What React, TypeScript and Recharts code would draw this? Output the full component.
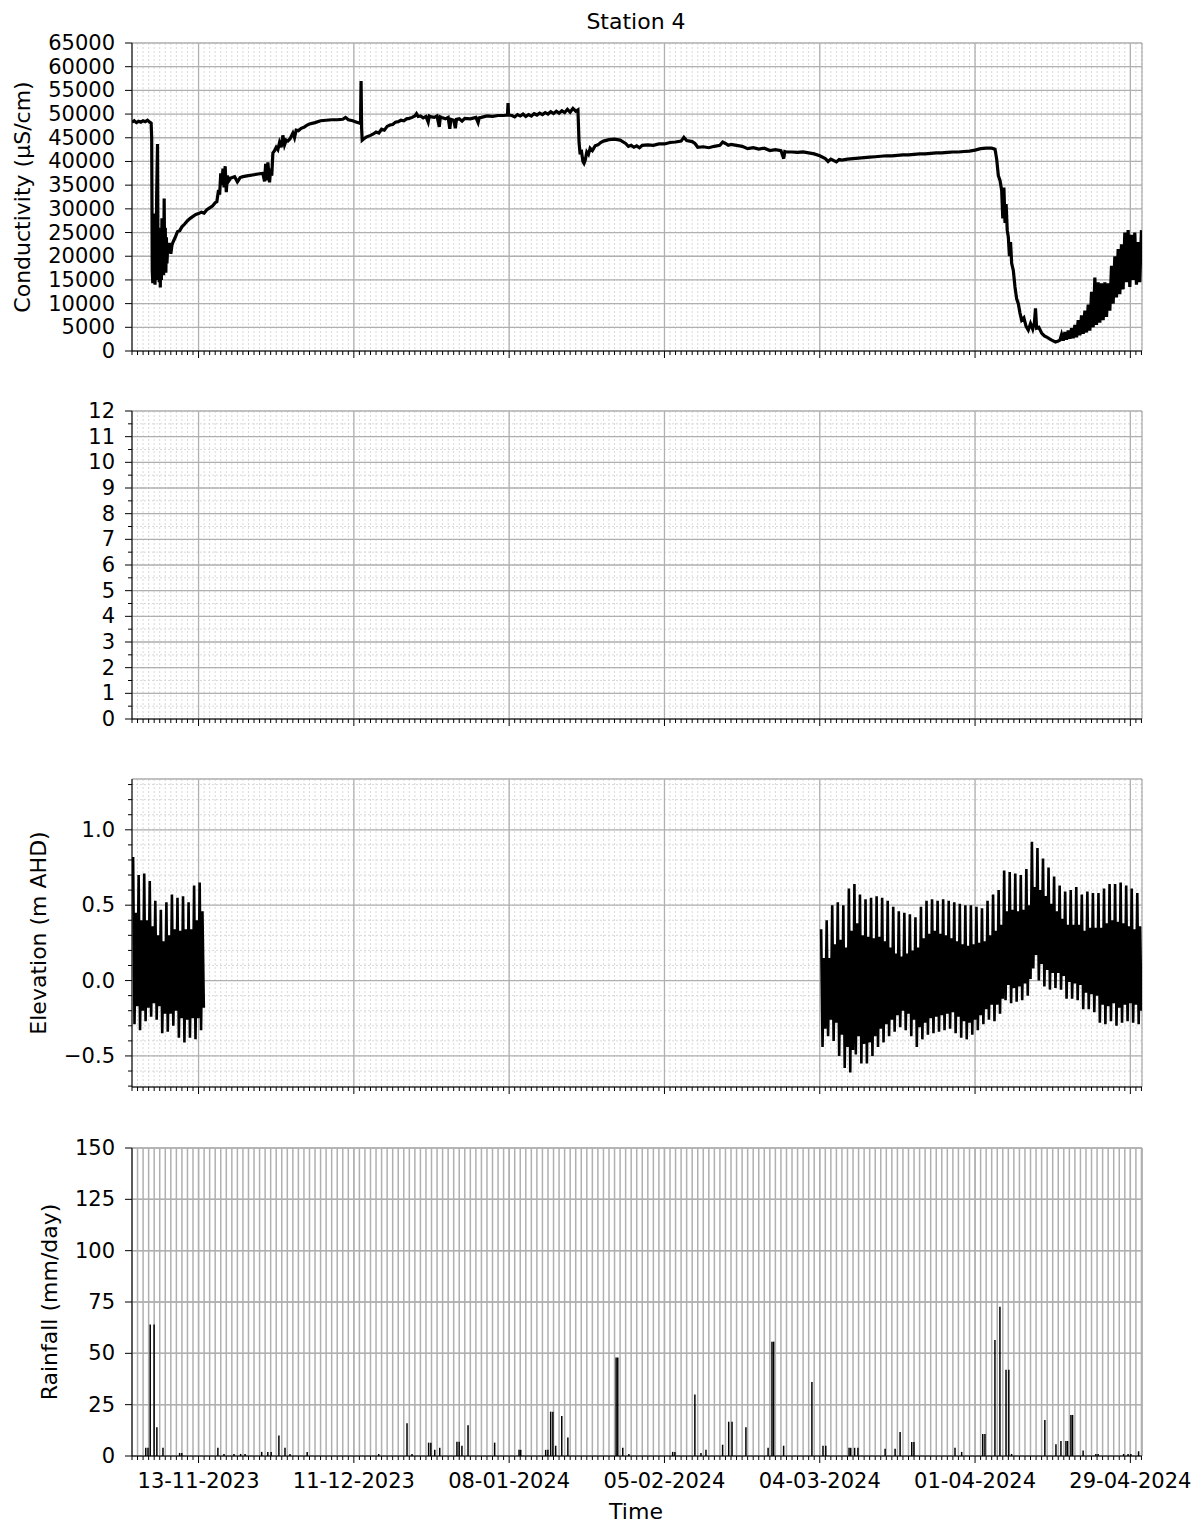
import React from "react";
import { ComposedChart, Line, Bar, XAxis, YAxis, CartesianGrid } from "recharts";

const FONT = "'DejaVu Sans', sans-serif";

// x axis: days since 01-11-2023
const DAY_END = 182.1;
const DAY_TICKS = Array.from({ length: 183 }, (_, i) => i);
const MAJOR_DAYS = [12, 40, 68, 96, 124, 152, 180];
const MAJOR_LABELS = ["13-11-2023", "11-12-2023", "08-01-2024", "05-02-2024", "04-03-2024", "01-04-2024", "29-04-2024"];

const COND_TICKS = [0, 5000, 10000, 15000, 20000, 25000, 30000, 35000, 40000, 45000, 50000, 55000, 60000, 65000];
const EMPTY_TICKS = [0, 0.5, 1, 1.5, 2, 2.5, 3, 3.5, 4, 4.5, 5, 5.5, 6, 6.5, 7, 7.5, 8, 8.5, 9, 9.5, 10, 10.5, 11, 11.5, 12];
const EMPTY_MAJOR = [0, 1, 2, 3, 4, 5, 6, 7, 8, 9, 10, 11, 12];
const ELEV_TICKS = [-0.7, -0.6, -0.5, -0.4, -0.3, -0.2, -0.1, 0, 0.1, 0.2, 0.3, 0.4, 0.5, 0.6, 0.7, 0.8, 0.9, 1.0, 1.1, 1.2, 1.3];
const ELEV_MAJOR = [-0.5, 0, 0.5, 1.0];
const ELEV_LABELS = ["\u22120.5", "0.0", "0.5", "1.0"];
const RAIN_TICKS = [0, 25, 50, 75, 100, 125, 150];

// conductivity (µS/cm): [day, value]
const CONDUCTIVITY: [number, number][] = [
  [0.0, 48300], [0.4, 48600], [0.8, 48200], [1.2, 48500], [1.6, 48300], [2.0, 48600], [2.4, 48400], [2.8, 48700], [3.2, 48300], [3.45, 48100],
  [3.55, 45000], [3.65, 17000], [3.75, 14300], [3.85, 26000], [3.95, 15500], [4.05, 29000], [4.15, 14000], [4.25, 27000], [4.35, 15000], [4.45, 33000],
  [4.6, 43700], [4.7, 15000], [4.8, 26000], [4.9, 14500], [5.0, 24000], [5.1, 13400], [5.2, 25000], [5.3, 15000], [5.4, 28000], [5.5, 16000],
  [5.6, 24000], [5.7, 16000], [5.8, 32200], [5.9, 17000], [6.0, 26000], [6.1, 16500], [6.2, 24000], [6.3, 18500], [6.45, 22500], [6.6, 21500],
  [6.8, 22800], [7.0, 20500], [7.2, 22300], [7.4, 23000], [7.8, 24000], [8.2, 25200], [8.6, 25400], [9.0, 26200], [9.5, 26800], [10.0, 27500],
  [10.5, 28000], [11.0, 28400], [11.5, 28800], [12.0, 29000], [12.5, 29300], [13.0, 29100], [13.5, 29800], [14.0, 30200], [14.5, 30600], [15.0, 31300],
  [15.3, 31500], [15.6, 34000], [15.8, 33000], [16.0, 37500], [16.2, 35000], [16.4, 38500], [16.6, 34500], [16.8, 39000], [17.0, 33500], [17.2, 37000],
  [17.5, 36000], [17.8, 36500], [18.5, 36800], [19.0, 35700], [19.5, 36600], [20.0, 36800], [21.0, 37000], [22.0, 37200], [23.0, 37400], [23.6, 37500],
  [23.9, 35800], [24.1, 39500], [24.3, 36000], [24.5, 39800], [24.8, 35600], [25.0, 38500], [25.2, 37000], [25.4, 41800], [25.7, 42300], [26.0, 43000],
  [26.3, 42500], [26.6, 44000], [26.9, 43000], [27.2, 45500], [27.5, 43500], [27.8, 44500], [28.1, 44300], [28.5, 44800], [29.0, 46000], [29.3, 45000],
  [29.6, 46600], [30.0, 46500], [30.5, 47000], [31.0, 47200], [31.5, 47600], [32.0, 47900], [33.0, 48200], [34.0, 48600], [35.0, 48700], [36.0, 48800],
  [37.0, 48800], [38.0, 48900], [38.5, 49300], [39.0, 48800], [39.8, 48600], [40.5, 48300], [41.0, 48100], [41.2, 48000], [41.3, 57000], [41.4, 47000],
  [41.5, 44500], [41.8, 44800], [42.3, 45200], [43.0, 45500], [43.5, 45800], [44.0, 46200], [44.5, 46000], [45.0, 46800], [45.5, 46600], [46.0, 47400],
  [46.5, 47700], [47.0, 47800], [47.5, 48300], [48.0, 48400], [48.5, 48700], [49.0, 48600], [49.5, 49000], [50.0, 49100], [50.5, 49300], [51.0, 49600],
  [51.3, 50100], [51.6, 49500], [52.0, 49600], [52.5, 49200], [53.0, 49500], [53.4, 48300], [53.6, 49600], [54.0, 49400], [54.5, 49300], [55.0, 49600],
  [55.4, 47300], [55.6, 49400], [56.0, 49200], [56.5, 49000], [57.0, 49300], [57.3, 46900], [57.5, 48900], [58.0, 48700], [58.3, 47000], [58.5, 48900],
  [59.0, 49000], [59.5, 48500], [60.0, 49100], [61.0, 49000], [62.0, 49300], [62.4, 48200], [62.6, 49200], [63.0, 49300], [64.0, 49600], [65.0, 49500],
  [66.0, 49700], [67.0, 49700], [67.7, 49800], [67.8, 52300], [67.9, 49800], [68.5, 49700], [69.0, 49400], [69.5, 49900], [70.0, 49600], [70.5, 50000],
  [71.0, 49500], [71.5, 49900], [72.0, 49600], [72.5, 50100], [73.0, 49800], [73.5, 50200], [74.0, 49900], [74.5, 50300], [75.0, 50000], [75.5, 50500],
  [76.0, 50100], [76.5, 50600], [77.0, 50200], [77.5, 50700], [78.0, 50300], [78.5, 51000], [79.0, 50400], [79.5, 51200], [80.0, 50600], [80.4, 50900],
  [80.6, 44000], [80.8, 41500], [81.0, 42500], [81.3, 40000], [81.5, 39600], [81.7, 40200], [82.0, 42000], [82.3, 41500], [82.6, 42800], [83.0, 42300],
  [83.5, 43300], [84.0, 43500], [84.5, 44000], [85.0, 44300], [86.0, 44600], [87.0, 44700], [88.0, 44500], [89.0, 43800], [89.5, 43200], [90.0, 43400],
  [90.5, 43000], [91.0, 43300], [91.5, 42900], [92.0, 43400], [93.0, 43500], [94.0, 43400], [95.0, 43700], [96.0, 43700], [97.0, 44000], [98.0, 44100],
  [99.0, 44300], [99.5, 45100], [100.0, 44400], [101.0, 44200], [101.5, 43800], [102.0, 43000], [103.0, 43100], [104.0, 42900], [105.0, 43200], [106.0, 43400],
  [106.5, 44100], [107.0, 43800], [107.5, 43400], [108.0, 43600], [109.0, 43400], [110.0, 43200], [111.0, 42700], [112.0, 42900], [113.0, 42600], [114.0, 42800],
  [115.0, 42300], [116.0, 42500], [117.0, 42300], [117.5, 40600], [117.7, 42100], [118.0, 42000], [119.0, 42000], [120.0, 41900], [121.0, 42000], [122.0, 41800],
  [123.0, 41600], [124.0, 41200], [125.0, 40600], [125.5, 40000], [126.0, 40500], [127.0, 39900], [127.5, 40400], [128.0, 40300], [129.0, 40500], [130.0, 40600],
  [131.0, 40700], [132.0, 40800], [133.0, 40900], [134.0, 41000], [135.0, 41100], [136.0, 41200], [137.0, 41200], [138.0, 41300], [139.0, 41400], [140.0, 41400],
  [141.0, 41500], [142.0, 41600], [143.0, 41600], [144.0, 41700], [145.0, 41800], [146.0, 41800], [147.0, 41900], [148.0, 42000], [149.0, 42000], [150.0, 42100],
  [151.0, 42200], [152.0, 42400], [153.0, 42700], [154.0, 42800], [155.0, 42800], [155.6, 42600], [155.9, 40500], [156.2, 37000], [156.5, 36000], [156.8, 33900],
  [157.0, 28000], [157.2, 34500], [157.4, 27000], [157.6, 31000], [157.8, 25500], [158.0, 24000], [158.2, 20000], [158.4, 23000], [158.6, 18500], [158.9, 17000],
  [159.2, 13500], [159.5, 11000], [159.8, 10000], [160.1, 8000], [160.4, 6500], [160.8, 7000], [161.2, 5200], [161.6, 4400], [162.0, 5800], [162.4, 4600],
  [162.7, 6000], [162.9, 9000], [163.1, 4800], [163.5, 5000], [164.0, 3800], [164.5, 3200], [165.0, 2900], [165.5, 2500], [166.0, 2200], [166.5, 1900],
  [167.0, 2100], [167.3, 2300], [167.6, 3500], [167.9, 2200], [168.2, 4000], [168.5, 2400], [168.8, 4300], [169.1, 2600], [169.4, 4800], [169.7, 2700],
  [170.0, 5500], [170.3, 2900], [170.6, 6500], [170.9, 3300], [171.2, 7500], [171.5, 3600], [171.8, 8500], [172.1, 3900], [172.4, 9800], [172.7, 4300],
  [173.0, 12500], [173.3, 5000], [173.6, 15500], [173.9, 5500], [174.2, 14500], [174.5, 6000], [174.8, 14300], [175.1, 6500], [175.4, 14500], [175.7, 7200],
  [176.0, 14300], [176.3, 8500], [176.6, 18000], [176.9, 10000], [177.2, 20000], [177.5, 11300], [177.8, 21500], [178.1, 12000], [178.4, 22500], [178.7, 13000],
  [179.0, 25000], [179.3, 14500], [179.6, 25500], [179.9, 13500], [180.2, 24500], [180.5, 15000], [180.8, 25000], [181.1, 14000], [181.4, 23000], [181.7, 14500],
  [182.0, 25500],
];

// elevation (m AHD), one row per day: [high, low, second high, second low] at quarter-day steps
const ELEV_START_1 = 0.2;
const ELEV_SEG_1: number[][] = [
  [0.82, -0.29, 0.45, -0.17], [0.70, -0.33, 0.40, -0.20], [0.71, -0.27, 0.40, -0.18], [0.66, -0.24, 0.36, -0.15],
  [0.53, -0.26, 0.30, -0.17], [0.47, -0.35, 0.26, -0.22], [0.52, -0.34, 0.30, -0.22], [0.57, -0.30, 0.34, -0.20],
  [0.55, -0.38, 0.33, -0.25], [0.56, -0.41, 0.34, -0.26], [0.52, -0.38, 0.34, -0.25], [0.63, -0.39, 0.40, -0.25],
  [0.65, -0.33, 0.46, -0.18],
];
const ELEV_START_2 = 124.25;
const ELEV_SEG_2: number[][] = [
  [0.34, -0.44, 0.15, -0.32], [0.40, -0.37, 0.15, -0.26], [0.50, -0.40, 0.24, -0.28], [0.52, -0.50, 0.27, -0.36],
  [0.50, -0.58, 0.22, -0.44], [0.61, -0.61, 0.33, -0.46], [0.64, -0.49, 0.38, -0.37], [0.57, -0.55, 0.30, -0.42],
  [0.54, -0.55, 0.29, -0.41], [0.55, -0.50, 0.28, -0.37], [0.56, -0.44, 0.29, -0.32], [0.55, -0.41, 0.26, -0.29],
  [0.53, -0.37, 0.22, -0.26], [0.49, -0.34, 0.18, -0.23], [0.46, -0.31, 0.16, -0.20], [0.45, -0.33, 0.18, -0.22],
  [0.44, -0.37, 0.20, -0.26], [0.42, -0.44, 0.22, -0.31], [0.49, -0.39, 0.28, -0.28], [0.53, -0.36, 0.31, -0.25],
  [0.54, -0.35, 0.33, -0.24], [0.53, -0.34, 0.31, -0.23], [0.54, -0.33, 0.30, -0.22], [0.53, -0.32, 0.28, -0.21],
  [0.52, -0.35, 0.26, -0.24], [0.51, -0.38, 0.24, -0.27], [0.50, -0.39, 0.23, -0.28], [0.50, -0.36, 0.24, -0.26],
  [0.49, -0.33, 0.25, -0.23], [0.48, -0.29, 0.26, -0.19], [0.53, -0.26, 0.30, -0.16], [0.57, -0.27, 0.33, -0.16],
  [0.60, -0.22, 0.37, -0.12], [0.73, -0.13, 0.46, -0.03], [0.72, -0.15, 0.47, -0.05], [0.71, -0.14, 0.46, -0.04],
  [0.70, -0.13, 0.47, -0.02], [0.74, -0.10, 0.50, 0.01], [0.92, 0.08, 0.62, 0.17], [0.88, 0.00, 0.60, 0.11],
  [0.81, -0.04, 0.56, 0.07], [0.75, -0.06, 0.51, 0.05], [0.69, -0.05, 0.46, 0.05], [0.63, -0.06, 0.41, 0.03],
  [0.59, -0.12, 0.37, -0.01], [0.60, -0.12, 0.37, -0.02], [0.62, -0.13, 0.37, -0.03], [0.57, -0.19, 0.33, -0.08],
  [0.59, -0.19, 0.35, -0.09], [0.58, -0.21, 0.35, -0.10], [0.58, -0.28, 0.35, -0.16], [0.61, -0.29, 0.38, -0.17],
  [0.64, -0.27, 0.40, -0.15], [0.64, -0.30, 0.39, -0.18], [0.65, -0.28, 0.38, -0.16], [0.63, -0.27, 0.36, -0.15],
  [0.61, -0.28, 0.34, -0.16], [0.58, -0.29, 0.36, -0.20],
];

// rainfall (mm/day): [day, mm]
const RAINFALL: [number, number][] = [
  [2.5, 4], [2.9, 4], [3.3, 64], [4.0, 64], [4.5, 14], [5.6, 4], [8.6, 1.5], [9.0, 1.5], [15.5, 4], [16.6, 1],
  [18.4, 1], [19.6, 1], [20.4, 1], [23.4, 2], [24.5, 2], [25.1, 2], [26.5, 10], [27.6, 4], [28.5, 1], [31.6, 2],
  [44.5, 1], [49.6, 16], [50.5, 1], [53.5, 6.5], [53.9, 6.5], [54.6, 3], [55.5, 4], [58.6, 7], [59.0, 7], [59.5, 5],
  [60.6, 15], [65.4, 6.5], [69.8, 3], [70.1, 3], [74.6, 3], [75.0, 3], [75.5, 21.6], [75.9, 21.6], [76.4, 5], [77.5, 19.5],
  [78.6, 9], [87.3, 48], [87.6, 48], [88.5, 4], [89.6, 1], [97.5, 2], [97.9, 2], [101.5, 30], [102.6, 1.5], [103.5, 3],
  [106.5, 5.5], [107.6, 16.7], [108.2, 16.7], [110.7, 14], [114.7, 4], [115.4, 55.7], [115.7, 55.7], [117.5, 5], [122.6, 36], [124.6, 5],
  [125.1, 5], [129.3, 4], [129.6, 4], [130.3, 4], [130.9, 4], [135.8, 3.5], [137.6, 3.5], [138.5, 11.7], [140.6, 6.8], [141.0, 6.8],
  [148.4, 4], [149.6, 2], [153.4, 10.7], [153.8, 10.7], [155.6, 56.5], [156.5, 72.7], [157.6, 42], [158.1, 42], [158.6, 1], [164.6, 17.5],
  [166.6, 5.7], [167.5, 7.3], [168.4, 7.3], [168.7, 7.3], [169.3, 20], [169.6, 20], [171.5, 2.7], [173.8, 1], [174.2, 1], [178.8, 1],
  [179.6, 1], [180.1, 1], [181.5, 2.3],
];

const condData = CONDUCTIVITY.map(([d, v]) => ({ d, v }));
const elevData: { d: number; v: number | null }[] = [];
ELEV_SEG_1.forEach((row, i) => row.forEach((v, j) => elevData.push({ d: ELEV_START_1 + i + j * 0.25, v })));
elevData.push({ d: 60, v: null });
ELEV_SEG_2.forEach((row, i) => row.forEach((v, j) => elevData.push({ d: ELEV_START_2 + i + j * 0.25, v })));
const rainData = RAINFALL.map(([d, mm]) => ({ d, mm }));

const W = 1202;
const PLOT_H = 308;
const TOP_PAD = 12;
const PANEL_TOPS = [43, 411, 779, 1148];
const MARGIN = { top: TOP_PAD, right: 60, left: 0, bottom: 0 };
const MINOR_GRID = "#d9d9d9";
const MAJOR_GRID = "#b0b0b0";

const dayTick = (labels: boolean) => (p: any) => {
  const i = MAJOR_DAYS.indexOf(p.payload.value);
  return (
    <g>
      <line x1={p.x} x2={p.x} y1={p.y} y2={p.y + (i >= 0 ? 7 : 4)} stroke="#000" strokeWidth={1} />
      {labels && i >= 0 && (
        <text x={p.x} y={p.y + 32} textAnchor="middle" fontSize={21} fontFamily={FONT} fill="#000">
          {MAJOR_LABELS[i]}
        </text>
      )}
    </g>
  );
};

const valueTick = (majors: number[], labels: string[]) => (p: any) => {
  const v = p.payload.value;
  const i = majors.findIndex((m) => Math.abs(m - v) < 1e-9);
  return (
    <g>
      <line x1={p.x} x2={p.x - (i >= 0 ? 7 : 4)} y1={p.y} y2={p.y} stroke="#000" strokeWidth={1} />
      {i >= 0 && (
        <text x={p.x - 17} y={p.y} textAnchor="end" dominantBaseline="central" fontSize={21} fontFamily={FONT} fill="#000">
          {labels[i]}
        </text>
      )}
    </g>
  );
};

function axesFor(
  domain: [number, number],
  ticks: number[],
  majors: number[],
  labels: string[],
  xLabels: boolean,
  xHeight: number,
  minorXGrid: boolean
) {
  return [
    <XAxis key="xd" xAxisId="day" dataKey="d" type="number" domain={[0, DAY_END]} allowDataOverflow ticks={DAY_TICKS}
      interval={0} tickSize={0} tickMargin={0} tickLine={false} axisLine={{ stroke: "#000" }} height={xHeight}
      tick={dayTick(xLabels)} />,
    <XAxis key="xm" xAxisId="major" dataKey="d" type="number" domain={[0, DAY_END]} allowDataOverflow ticks={MAJOR_DAYS}
      interval={0} height={0} hide />,
    <XAxis key="xt" xAxisId="top" dataKey="d" orientation="top" type="number" domain={[0, DAY_END]} allowDataOverflow height={0}
      tick={false} tickLine={false} axisLine={{ stroke: "#000" }} />,
    <YAxis key="yv" yAxisId="v" type="number" domain={domain} allowDataOverflow ticks={ticks} interval={0} width={132}
      tickSize={0} tickMargin={0} tickLine={false} axisLine={{ stroke: "#000" }} tick={valueTick(majors, labels)} />,
    <YAxis key="ym" yAxisId="major" type="number" domain={domain} allowDataOverflow ticks={majors} interval={0} width={0} hide />,
    <YAxis key="yr" yAxisId="right" orientation="right" type="number" domain={domain} allowDataOverflow width={0}
      tick={false} tickLine={false} axisLine={{ stroke: "#000" }} />,
    minorXGrid ? (
      <CartesianGrid key="g1" xAxisId="day" yAxisId="v" stroke={MINOR_GRID} strokeDasharray="2 2" />
    ) : (
      <CartesianGrid key="g1" xAxisId="day" yAxisId="major" stroke={MAJOR_GRID} strokeWidth={1.5} />
    ),
    <CartesianGrid key="g2" xAxisId="major" yAxisId="major" stroke={MAJOR_GRID} strokeWidth={1.3} />,
  ];
}

export default function App() {
  return (
    <div style={{ position: "absolute", left: 0, top: 0, width: W, height: 1529, background: "#fff", fontFamily: FONT }}>
      <div style={{ position: "absolute", left: 0, top: PANEL_TOPS[0] - TOP_PAD }}>
        <ComposedChart width={W} height={TOP_PAD + PLOT_H + 14} data={condData} margin={MARGIN}>
          {axesFor([0, 65000], COND_TICKS, COND_TICKS, COND_TICKS.map(String), false, 14, true)}
          <Line xAxisId="day" yAxisId="v" dataKey="v" stroke="#000" strokeWidth={3.2} dot={false} isAnimationActive={false} />
        </ComposedChart>
      </div>

      <div style={{ position: "absolute", left: 0, top: PANEL_TOPS[1] - TOP_PAD }}>
        <ComposedChart width={W} height={TOP_PAD + PLOT_H + 14} data={[]} margin={MARGIN}>
          {axesFor([0, 12], EMPTY_TICKS, EMPTY_MAJOR, EMPTY_MAJOR.map(String), false, 14, true)}
        </ComposedChart>
      </div>

      <div style={{ position: "absolute", left: 0, top: PANEL_TOPS[2] - TOP_PAD }}>
        <ComposedChart width={W} height={TOP_PAD + PLOT_H + 14} data={elevData} margin={MARGIN}>
          {axesFor([-0.706, 1.337], ELEV_TICKS, ELEV_MAJOR, ELEV_LABELS, false, 14, true)}
          <Line xAxisId="day" yAxisId="v" dataKey="v" stroke="#000" strokeWidth={2.6} dot={false} connectNulls={false}
            isAnimationActive={false} />
        </ComposedChart>
      </div>

      <div style={{ position: "absolute", left: 0, top: PANEL_TOPS[3] - TOP_PAD }}>
        <ComposedChart width={W} height={TOP_PAD + PLOT_H + 45} data={rainData} margin={MARGIN}>
          {axesFor([0, 150], RAIN_TICKS, RAIN_TICKS, RAIN_TICKS.map(String), true, 45, false)}
          <Bar xAxisId="day" yAxisId="v" dataKey="mm" fill="#000" barSize={2} isAnimationActive={false} />
        </ComposedChart>
      </div>

      <svg width={W} height={1529} style={{ position: "absolute", left: 0, top: 0, pointerEvents: "none" }}>
        <g fontFamily={FONT} fill="#000" fontSize={22}>
          <text x={636} y={21} textAnchor="middle" dominantBaseline="central">Station 4</text>
          <text transform="translate(22.5,197) rotate(-90)" textAnchor="middle" dominantBaseline="central">Conductivity (µS/cm)</text>
          <text transform="translate(38,933) rotate(-90)" textAnchor="middle" dominantBaseline="central">Elevation (m AHD)</text>
          <text transform="translate(49,1302) rotate(-90)" textAnchor="middle" dominantBaseline="central">Rainfall (mm/day)</text>
          <text x={636} y={1511} textAnchor="middle" dominantBaseline="central">Time</text>
        </g>
      </svg>
    </div>
  );
}
